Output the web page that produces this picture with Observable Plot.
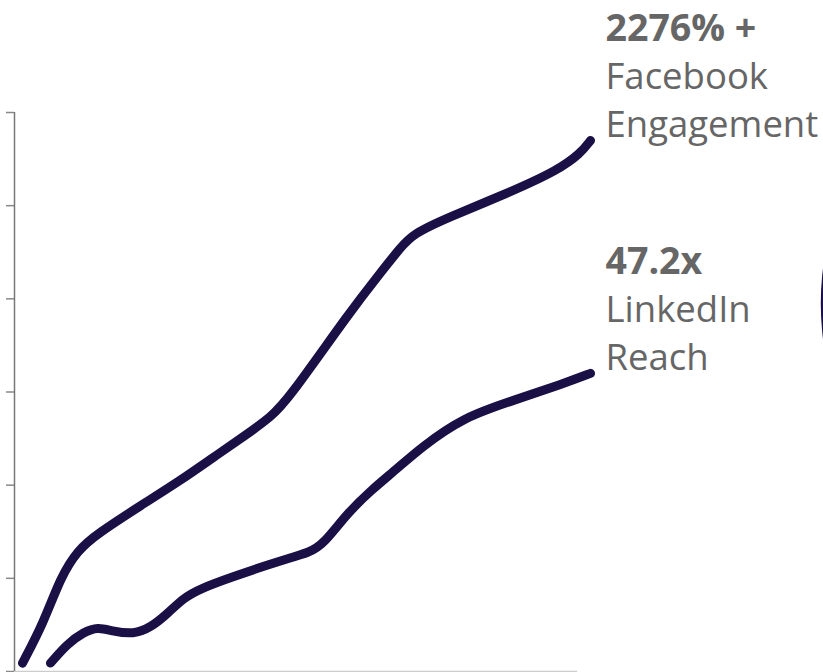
<!DOCTYPE html>
<html>
<head>
<meta charset="utf-8">
<script src="https://cdn.jsdelivr.net/npm/d3@7"></script>
<script src="https://cdn.jsdelivr.net/npm/@observablehq/plot@0.6"></script>
<style>
  html, body { margin: 0; padding: 0; background: #fff; }
  #chart { width: 823px; height: 672px; overflow: hidden; }
  svg { display: block; }
</style>
</head>
<body>
<div id="chart"></div>
<script>
// Series values (x: progress 0–100 along the axis, y: growth units 0–6)
const facebookX = [1.42, 5.15, 8.17, 11.19, 14.74, 22.38, 29.48, 35.35, 41.39, 45.47, 48.49, 59.68, 65.01, 68.56, 70.87, 76.91, 88.63, 96.45, 100.53, 102.31];
const facebookY = [0.09, 0.52, 1.01, 1.30, 1.48, 1.78, 2.05, 2.30, 2.55, 2.73, 2.91, 3.87, 4.28, 4.55, 4.70, 4.87, 5.16, 5.38, 5.56, 5.70];

const linkedinX = [6.39, 9.41, 12.26, 14.74, 17.58, 21.14, 24.16, 27.18, 30.02, 33.04, 38.37, 47.25, 52.58, 54.88, 59.15, 63.23, 68.03, 72.11, 79.75, 88.63, 97.51, 102.31];
const linkedinY = [0.09, 0.30, 0.42, 0.48, 0.43, 0.40, 0.47, 0.62, 0.79, 0.89, 1.01, 1.19, 1.28, 1.37, 1.70, 1.94, 2.18, 2.40, 2.73, 2.91, 3.09, 3.20];

// Series labels
const seriesNames = ["Facebook", "LinkedIn"];
const seriesValues = ["2276% +", "47.2x"];
const seriesDescriptions = ["Facebook\nEngagement", "LinkedIn\nReach"];

// Axis ticks
const yTicks = [0, 1, 2, 3, 4, 5, 6];
const xDomain = [0, 100];

// Decorative circle (partly outside the frame, right side)
const decoX = [193.3];
const decoY = [3.95];

const ink = "#1a1045";
const grey = "#666666";

const lineData = [
  ...facebookX.map((x, i) => ({series: "Facebook", x, y: facebookY[i]})),
  ...linkedinX.map((x, i) => ({series: "LinkedIn", x, y: linkedinY[i]}))
];
const ends = [
  {x: facebookX.at(-1), y: facebookY.at(-1)},
  {x: linkedinX.at(-1), y: linkedinY.at(-1)}
];
const labelData = seriesNames.map((s, i) => ({
  series: s, value: seriesValues[i], desc: seriesDescriptions[i], x: ends[i].x, y: ends[i].y
}));
const deco = decoX.map((x, i) => ({x, y: decoY[i]}));

const chart = Plot.plot({
  width: 823,
  height: 672,
  marginLeft: 14,
  marginRight: 246,
  marginTop: 112,
  marginBottom: 1,
  style: {fontFamily: "'Open Sans', sans-serif", background: "#fff", overflow: "visible"},
  x: {domain: xDomain, axis: null},
  y: {domain: [0, 6], axis: null},
  marks: [
    Plot.dot(deco, {x: "x", y: "y", r: 282, fill: ink, clip: false}),
    Plot.ruleY([0], {x1: xDomain[0], x2: xDomain[1], stroke: "#cccccc", strokeWidth: 1.5}),
    Plot.axisY({ticks: yTicks, tickSize: 8, tickFormat: () => "", label: null, stroke: "#888888", strokeWidth: 1.5}),
    Plot.ruleX([0], {y1: 0, y2: 6, stroke: "#777777", strokeWidth: 1.5}),
    Plot.line(lineData, {
      x: "x", y: "y", z: "series", stroke: ink, strokeWidth: 9,
      curve: "basis", strokeLinecap: "round", strokeLinejoin: "round", clip: false
    }),
    Plot.text(labelData, {
      x: "x", y: "y", text: "value", textAnchor: "start", lineAnchor: "bottom",
      dx: 15, dy: -99, fontSize: 37.5, fontWeight: 700, fill: grey
    }),
    Plot.text(labelData, {
      x: "x", y: "y", text: "desc", textAnchor: "start", lineAnchor: "bottom",
      lineHeight: 1.32, dx: 15, dy: -3, fontSize: 36.5, fontWeight: 400, fill: grey
    })
  ]
});
document.getElementById("chart").appendChild(chart);
</script>
</body>
</html>
